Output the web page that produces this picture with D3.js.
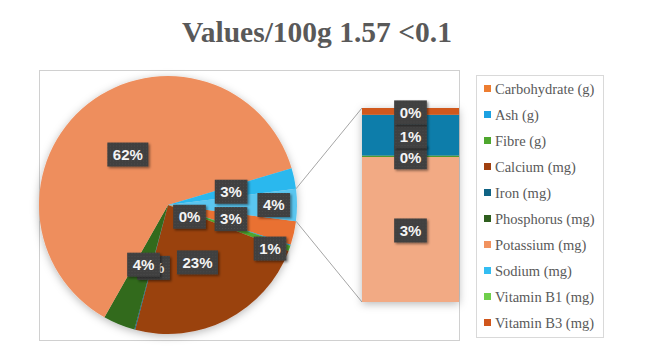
<!DOCTYPE html>
<html>
<head>
<meta charset="utf-8">
<script src="https://cdn.jsdelivr.net/npm/d3@7"></script>
<style>
  html, body { margin: 0; padding: 0; background: #fff; }
  svg { display: block; }
</style>
</head>
<body>
<div id="chart"></div>
<script>
// Main pie slices (percent of total), clockwise from the "Other" slice
const pieNames = ["Carbohydrate (g)", "Ash (g)", "Fibre (g)", "Calcium (mg)", "Iron (mg)",
                  "Phosphorus (mg)", "Potassium (mg)", "Sodium (mg)"];
const pieValues = [3.0, 0.1, 0.7, 23.3, 0.1, 4.0, 62.2, 2.6];
const pieColors = ["#e97132", "#1c9cd8", "#4ea72e", "#9a4210", "#0e6185",
                   "#306a1e", "#ee8e5d", "#2cb8ee"];
const otherColor = "#5ac6f0";

// Secondary bar segments, bottom to top
const barValues = [2.99, 0.03, 0.84, 0.14];
const barColors = ["#f2aa84", "#4f9a2a", "#0d7daa", "#d0581b"];

// Legend
const legendNames = ["Carbohydrate (g)", "Ash (g)", "Fibre (g)", "Calcium (mg)", "Iron (mg)",
                     "Phosphorus (mg)", "Potassium (mg)", "Sodium (mg)", "Vitamin B1 (mg)", "Vitamin B3 (mg)"];
const legendColors = ["#ed7d31", "#1ba1e2", "#4ea72e", "#a0400f", "#0f6384",
                      "#2e5e1e", "#f1925f", "#33bdf2", "#6fcf4b", "#d0561b"];

const chartTitle = "Values/100g 1.57 <0.1";

const width = 648, height = 351;
const cx = 168, cy = 205, radius = 129;
const bar = { x0: 362, x1: 459, top: 108, bottom: 302 };

const svg = d3.select("#chart").append("svg")
    .attr("width", width)
    .attr("height", height);

const defs = svg.append("defs");
defs.append("filter").attr("id", "softShadow")
    .attr("x", "-20%").attr("y", "-20%").attr("width", "140%").attr("height", "140%")
  .append("feDropShadow")
    .attr("dx", 0).attr("dy", 2).attr("stdDeviation", 4)
    .attr("flood-color", "#000").attr("flood-opacity", 0.28);
defs.append("filter").attr("id", "labelShadow")
    .attr("x", "-30%").attr("y", "-30%").attr("width", "160%").attr("height", "160%")
  .append("feDropShadow")
    .attr("dx", 1.5).attr("dy", 1.5).attr("stdDeviation", 1.2)
    .attr("flood-color", "#000").attr("flood-opacity", 0.45);
const pat = defs.append("pattern").attr("id", "labelTex")
    .attr("width", 3).attr("height", 3).attr("patternUnits", "userSpaceOnUse");
pat.append("rect").attr("width", 3).attr("height", 3).attr("fill", "#3f3f3f");
pat.append("rect").attr("width", 1).attr("height", 1).attr("fill", "#4d4d4d");

// Title
svg.append("text")
    .attr("x", 317).attr("y", 42)
    .attr("text-anchor", "middle")
    .style("font-family", "'Liberation Serif', 'Times New Roman', serif")
    .style("font-weight", "bold")
    .style("font-size", "29.5px")
    .style("fill", "#595959")
    .text(chartTitle);

// Plot area frame
svg.append("rect")
    .attr("x", 39.5).attr("y", 70.5).attr("width", 420).attr("height", 270)
    .attr("fill", "none").attr("stroke", "#d0d0d0");

// Pie data: main slices followed by the aggregated "Other" slice
const otherValue = d3.sum(barValues);
const total = d3.sum(pieValues) + otherValue;
const slices = pieValues.map((v, i) => ({ name: pieNames[i], value: v, color: pieColors[i] }))
    .concat([{ name: "Other", value: otherValue, color: otherColor }]);

// Other slice is centred on 3 o'clock, first slice starts just below it
const start = Math.PI / 2 + (otherValue / total) * Math.PI;
const pie = d3.pie().sort(null).value(d => d.value)
    .startAngle(start).endAngle(start + 2 * Math.PI);
const arcs = pie(slices);
const arc = d3.arc().innerRadius(0).outerRadius(radius);

const pieG = svg.append("g")
    .attr("transform", `translate(${cx},${cy})`)
    .attr("filter", "url(#softShadow)");
pieG.selectAll("path")
    .data(arcs)
    .join("path")
    .attr("d", arc)
    .attr("fill", d => d.data.color);

// Connector lines from Other slice to the bar
const otherArc = arcs[arcs.length - 1];
const edge = a => [cx + radius * Math.sin(a), cy - radius * Math.cos(a)];
const [ux, uy] = edge(otherArc.startAngle);
const [lx, ly] = edge(otherArc.endAngle);
svg.append("line").attr("x1", ux).attr("y1", uy).attr("x2", bar.x0).attr("y2", bar.top)
    .attr("stroke", "#a6a6a6").attr("stroke-width", 1);
svg.append("line").attr("x1", lx).attr("y1", ly).attr("x2", bar.x0).attr("y2", bar.bottom)
    .attr("stroke", "#a6a6a6").attr("stroke-width", 1);

// Secondary bar
const yBar = d3.scaleLinear().domain([0, otherValue]).range([bar.bottom, bar.top]);
let acc = 0;
const segs = barValues.map((v, i) => {
    const s = { value: v, color: barColors[i], y0: acc, y1: acc + v };
    acc += v;
    return s;
});
const barG = svg.append("g").attr("filter", "url(#softShadow)");
barG.selectAll("rect")
    .data(segs)
    .join("rect")
    .attr("x", bar.x0)
    .attr("width", bar.x1 - bar.x0)
    .attr("y", d => yBar(d.y1))
    .attr("height", d => yBar(d.y0) - yBar(d.y1))
    .attr("fill", d => d.color);

// Data labels
const pct = v => Math.round(v / total * 100) + "%";

// Best-fit tweaks for crowded slices: [radius factor, angle shift in degrees]
const nudge = {
    "Other": [0.82, 0],
    "Fibre (g)": [0.86, 3.5],
    "Ash (g)": [0.19, 10.5],
    "Iron (mg)": [0.5, -2]
};

const labels = arcs.map(d => {
    const [f, da] = nudge[d.data.name] || [0.5, 0];
    const a = (d.startAngle + d.endAngle) / 2 + da * Math.PI / 180;
    return { text: pct(d.value), x: cx + f * radius * Math.sin(a), y: cy - f * radius * Math.cos(a) };
}).concat(segs.map(s => ({
    text: pct(s.value),
    x: (bar.x0 + bar.x1) / 2,
    y: yBar((s.y0 + s.y1) / 2) + 1
})));

const labelG = svg.append("g");
labels.forEach(l => {
    const g = labelG.append("g").attr("transform", `translate(${l.x},${l.y})`);
    const box = g.append("rect").attr("fill", "url(#labelTex)").attr("filter", "url(#labelShadow)");
    const t = g.append("text")
        .attr("text-anchor", "middle")
        .attr("dy", "0.36em")
        .style("font-family", "'Liberation Sans', Arial, sans-serif")
        .style("font-weight", "bold")
        .style("font-size", "15px")
        .style("fill", "#f4f4f4")
        .text(l.text);
    const w = t.node().getComputedTextLength() + 11;
    box.attr("x", -w / 2).attr("y", -12).attr("width", w).attr("height", 24);
});

// Legend
const legend = svg.append("g");
legend.append("rect")
    .attr("x", 476.5).attr("y", 75.5).attr("width", 127).attr("height", 262)
    .attr("fill", "#fff").attr("stroke", "#d9d9d9");
const ly0 = 88.5, lstep = 26;
legendNames.forEach((name, i) => {
    const y = ly0 + i * lstep;
    legend.append("rect")
        .attr("x", 484).attr("y", y - 3.5).attr("width", 7).attr("height", 7)
        .attr("fill", legendColors[i]);
    legend.append("text")
        .attr("x", 495).attr("y", y)
        .attr("dy", "0.35em")
        .style("font-family", "'Liberation Serif', 'Times New Roman', serif")
        .style("font-size", "14.5px")
        .style("fill", "#595959")
        .text(name);
});
</script>
</body>
</html>
